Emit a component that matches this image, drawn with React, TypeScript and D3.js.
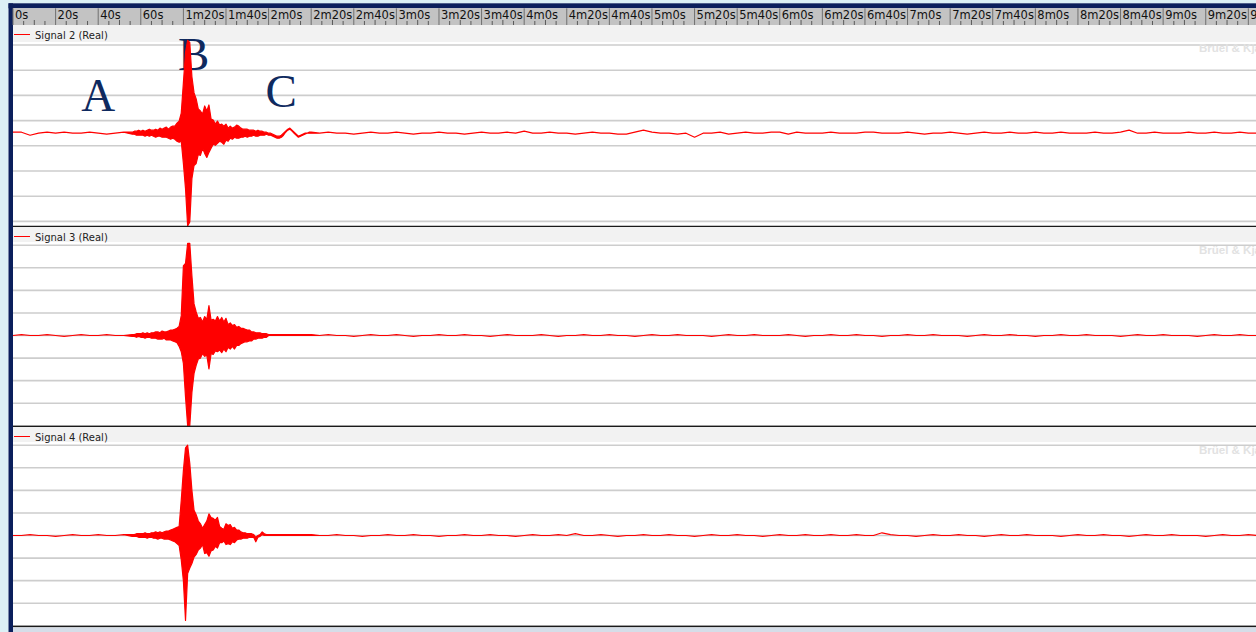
import React from 'react';
import * as d3 from 'd3';

const WIDTH = 1256;
const HEIGHT = 632;

// ---------- Ruler (time axis) ----------
const tickSeconds = [0, 20, 40, 60, 80, 100, 120, 140, 160, 180, 200, 220, 240, 260, 280, 300, 320, 340, 360, 380, 400, 420, 440, 460, 480, 500, 520, 540, 560, 580];
const tickLabels = ["0s", "20s", "40s", "60s", "1m20s", "1m40s", "2m0s", "2m20s", "2m40s", "3m0s", "3m20s", "3m40s", "4m0s", "4m20s", "4m40s", "5m0s", "5m20s", "5m40s", "6m0s", "6m20s", "6m40s", "7m0s", "7m20s", "7m40s", "8m0s", "8m20s", "8m40s", "9m0s", "9m20s", "9m40s"];
const T_MAX = 583.6;

// ---------- Signals ----------
// Quiet trace sampled every 4 s: pre-event from 0 s, post-event from 144 s
const QUIET_STEP = 4;
const PRE_START = 0;
const POST_START = 144;
// Event envelope (max / min per second) from 56 s to 140 s
const BURST_START = 56;
const BURST_STEP = 1;

const sig2Pre = [1, 1, -2, 0, 1, 0, 1, 0, 0, 1, 0, -1, 0, 1];
const sig2Post = [
  0, 1, 0, 0, -1, 0, 1, 0, 0, 1,
  0, -1, 0, 0, 1, 0, 0, -1, 0, 1,
  0, 0, 1, 0, 2, 0, 0, 1, 0, 0,
  -1, 0, 1, 0, 0, -1, -1, 1, 3, 1,
  0, 0, -1, 0, -4, 0, 0, 1, -1, 0,
  1, 0, 0, 1, 1, -1, 1, 0, 0, 0,
  1, 0, 0, 0, 1, 1, 0, 0, 0, 1,
  0, -1, 0, 0, 1, 0, -1, 0, 1, 0,
  0, 1, 0, 0, 1, 0, 0, 1, 0, 0,
  0, 1, 0, 0, 1, 3, 0, 0, 1, 0,
  0, 0, 1, 0, 0, 1, 0, 0, 1, 0,
  0,
];
const sig2Hi = [
  1, 2, 2, 3, 2, 3, 2, 3, 4, 3,
  3, 4, 3, 5, 4, 5, 6, 4, 6, 7,
  7, 10, 12, 20, 50, 80, 92, 90, 56, 40,
  34, 24, 22, 19, 27, 22, 28, 14, 13, 9,
  12, 8, 9, 7, 9, 5, 7, 5, 6, 8,
  7, 5, 4, 4, 4, 3, 3, 3, 2, 3,
  2, 2, 1, 1, 0, 0, -1, -2, -3, -3,
  -2, 0, 2, 4, 5, 3, 1, -1, -3, -2,
  -1, 0, 0, 1, 1,
];
const sig2Lo = [
  -1, -1, -2, -2, -2, -2, -3, -2, -3, -2,
  -3, -4, -3, -3, -4, -4, -4, -5, -6, -5,
  -6, -8, -9, -8, -30, -55, -92, -88, -45, -32,
  -30, -21, -22, -15, -20, -24, -19, -15, -11, -12,
  -10, -8, -9, -11, -7, -8, -5, -6, -4, -5,
  -5, -4, -4, -3, -4, -3, -3, -2, -3, -3,
  -2, -2, -2, -1, -2, -2, -3, -4, -5, -5,
  -4, -2, 1, 3, 4, 2, 0, -2, -4, -3,
  -2, -1, 0, 0, 0,
];

const sig3Pre = [0, 1, 0, 0, 1, 0, -1, 0, 1, 0, 0, 1, 0, 0];
const sig3Post = [
  0, 1, 0, 0, -1, 0, 1, 0, 0, 1,
  0, -1, 0, 0, 1, 0, 0, 1, 0, 0,
  -1, 0, 1, 0, 0, 0, 1, 0, -1, 0,
  0, 1, 0, 0, 1, 0, 0, -1, 0, 1,
  0, 0, 1, 0, 0, 0, -1, 0, 1, 0,
  0, 1, 0, 0, 0, 1, 0, -1, 0, 0,
  1, 0, 0, 1, 0, 0, -1, 0, 0, 1,
  0, 0, 1, 0, 0, 0, -1, 0, 1, 0,
  0, 1, 0, 0, -1, 0, 0, 1, 0, 0,
  1, 0, 0, 0, -1, 0, 1, 0, 0, 1,
  0, 0, 0, -1, 0, 1, 0, 0, 1, 0,
  0,
];
const sig3Hi = [
  1, 1, 2, 2, 2, 3, 2, 3, 2, 3,
  3, 4, 4, 3, 5, 4, 4, 5, 6, 6,
  7, 8, 10, 22, 77, 80, 102, 102, 66, 35,
  26, 19, 20, 15, 21, 18, 33, 17, 18, 16,
  21, 16, 20, 15, 19, 12, 14, 11, 12, 9,
  10, 8, 8, 7, 6, 6, 4, 4, 3, 3,
  3, 2, 2, 2, 1, 1, 1, 1, 1, 1,
  1, 1, 1, 1, 1, 1, 1, 1, 1, 1,
  1, 1, 1, 1, 1,
];
const sig3Lo = [
  -1, -1, -2, -1, -2, -2, -3, -2, -2, -3,
  -3, -3, -4, -4, -4, -3, -5, -5, -5, -6,
  -7, -8, -12, -18, -31, -68, -100, -100, -63, -42,
  -33, -26, -25, -20, -23, -22, -37, -20, -21, -17,
  -18, -16, -19, -15, -18, -13, -15, -12, -15, -11,
  -11, -9, -8, -7, -7, -6, -6, -4, -4, -3,
  -3, -3, -2, -2, 0, 0, 0, 0, 0, 0,
  0, 0, 0, 0, 0, 0, 0, 0, 0, 0,
  0, 0, 0, 0, 0,
];

const sig4Pre = [0, 0, 1, 0, 0, -1, 0, 1, 0, 0, 1, 0, 0, 1];
const sig4Post = [
  0, 0, 1, 0, 0, -1, 0, 0, 1, 0,
  0, 1, 0, 0, -1, 0, 0, 1, 0, 0,
  1, 0, 0, -1, 0, 1, 0, 0, 1, 0,
  2, 0, 0, 1, 0, -1, 0, 0, 1, 0,
  0, 1, 0, 0, -1, 0, 1, 0, 0, 1,
  0, 0, -1, 0, 1, 0, 0, 1, 0, 0,
  1, 0, 0, 1, 0, 0, 3, 1, 0, 0,
  -1, 0, 1, 0, 0, 1, 0, 0, -1, 0,
  1, 0, 0, 1, 0, 0, 0, -1, 0, 1,
  0, 0, 1, 0, 0, -1, 0, 1, 0, 0,
  1, 0, 0, 0, -1, 0, 1, 0, 0, 1,
  0,
];
const sig4Hi = [
  1, 1, 2, 2, 2, 2, 3, 2, 2, 3,
  3, 4, 3, 4, 3, 4, 5, 5, 6, 7,
  8, 9, 10, 39, 72, 97, 100, 80, 50, 28,
  23, 16, 13, 8, 12, 16, 24, 20, 19, 17,
  20, 10, 8, 7, 13, 11, 12, 8, 9, 6,
  6, 4, 3, 3, 2, 2, 2, 1, -2, 0,
  1, 4, 2, 1, 1, 1, 1, 1, 1, 1,
  1, 1, 1, 1, 1, 1, 1, 1, 1, 1,
  1, 1, 1, 1, 1,
];
const sig4Lo = [
  -1, -1, -1, -2, -2, -2, -2, -3, -2, -2,
  -3, -3, -4, -3, -3, -4, -4, -4, -5, -6,
  -7, -9, -11, -27, -50, -94, -42, -36, -31, -24,
  -21, -16, -14, -10, -20, -19, -23, -17, -16, -12,
  -14, -8, -8, -6, -10, -9, -10, -7, -8, -5,
  -4, -4, -3, -3, -3, -2, -2, -2, -7, -2,
  -1, 1, 0, 0, 0, 0, 0, 0, 0, 0,
  0, 0, 0, 0, 0, 0, 0, 0, 0, 0,
  0, 0, 0, 0, 0,
];

const signalNames = ["Signal 2 (Real)", "Signal 3 (Real)", "Signal 4 (Real)"];
const gridP1 = [-87.5, -62.5, -37.5, -12.5, 12.5, 37.5, 62.5, 87.5];
const gridP23 = [-100, -75, -50, -25, 0, 25, 50, 75, 100];

const annotations = [
  { text: "A", t: 32, v: 22 },
  { text: "B", t: 77.5, v: 63 },
  { text: "C", t: 118.5, v: 26 },
];

type Pt = { t: number; hi: number; lo: number };

function buildSeries(pre: number[], post: number[], hi: number[], lo: number[]): Pt[] {
  const pts: Pt[] = [];
  pre.forEach((v, i) => pts.push({ t: PRE_START + i * QUIET_STEP, hi: v, lo: v }));
  hi.forEach((h, i) => pts.push({ t: BURST_START + i * BURST_STEP, hi: h, lo: lo[i] }));
  post.forEach((v, i) => pts.push({ t: POST_START + i * QUIET_STEP, hi: v, lo: v }));
  return pts;
}

const PLOT_LEFT = 13;

const panelLayout = [
  { top: 25, headerBottom: 42, bottom: 226, domain: [-87.5, 87.5], range: [221.4, 45], grid: gridP1 },
  { top: 227, headerBottom: 242, bottom: 426, domain: [-100, 100], range: [425.8, 245.2], grid: gridP23 },
  { top: 427, headerBottom: 442, bottom: 626, domain: [-100, 100], range: [625.8, 445.2], grid: gridP23 },
];

const seriesData = [
  buildSeries(sig2Pre, sig2Post, sig2Hi, sig2Lo),
  buildSeries(sig3Pre, sig3Post, sig3Hi, sig3Lo),
  buildSeries(sig4Pre, sig4Post, sig4Hi, sig4Lo),
];

export default function App() {
  const x = d3.scaleLinear().domain([0, T_MAX]).range([PLOT_LEFT, WIDTH]);
  const minorTicks = d3.range(0, T_MAX, 5).filter((t) => t % 20 !== 0);

  return (
    <svg
      width={WIDTH}
      height={HEIGHT}
      style={{ position: 'absolute', left: 0, top: 0, display: 'block', background: '#ffffff' }}
    >
      <defs>
        {panelLayout.map((p, i) => (
          <clipPath id={`clip${i}`} key={i}>
            <rect x={PLOT_LEFT} y={p.top} width={WIDTH - PLOT_LEFT} height={p.bottom - p.top} />
          </clipPath>
        ))}
      </defs>

      {/* window frame */}
      <rect x={0} y={0} width={WIDTH} height={HEIGHT} fill="#ffffff" />
      <rect x={0} y={0} width={WIDTH} height={3.3} fill="#dcf0f5" />
      <rect x={0} y={0} width={8.5} height={HEIGHT} fill="#dcf0f5" />
      <rect x={8.5} y={3.3} width={WIDTH} height={5} fill="#0b1f5c" />
      <rect x={8.5} y={3.3} width={4.5} height={HEIGHT} fill="#0b1f5c" />

      {/* ruler */}
      <rect x={PLOT_LEFT} y={8.3} width={WIDTH - PLOT_LEFT} height={16.7} fill="#c3c3c3" />
      {minorTicks.map((t) => (
        <line key={`m${t}`} x1={x(t)} x2={x(t)} y1={t % 10 === 0 ? 20 : 21} y2={25} stroke="#5a5a5a" strokeWidth={1} />
      ))}
      {tickSeconds.map((t, i) => (
        <g key={`t${t}`}>
          <line x1={x(t)} x2={x(t)} y1={8.3} y2={25} stroke="#707070" strokeWidth={1} />
          <text x={x(t) + 2} y={19} fontFamily="DejaVu Sans" fontSize={11.5} fill="#111">
            {tickLabels[i]}
          </text>
        </g>
      ))}

      {/* panels */}
      {panelLayout.map((p, i) => {
        const y = d3.scaleLinear().domain(p.domain).range(p.range);
        const area = d3
          .area<Pt>()
          .x((d) => x(d.t))
          .y0((d) => y(d.lo))
          .y1((d) => y(d.hi));
        return (
          <g key={`p${i}`}>
            <rect x={PLOT_LEFT} y={p.top} width={WIDTH - PLOT_LEFT} height={p.headerBottom - p.top} fill="#f2f2f2" />
            {p.grid.map((g) => (
              <line key={g} x1={PLOT_LEFT} x2={WIDTH} y1={y(g)} y2={y(g)} stroke="#cdcdcd" strokeWidth={1.6} />
            ))}
            <text
              x={1199}
              y={p.top + 27}
              fontFamily="Liberation Sans"
              fontWeight="bold"
              fontSize={11.5}
              fill="#e2e2e2"
            >
              Brüel &amp; Kjær
            </text>
            {i === 0 &&
              annotations.map((a) => (
                <text
                  key={a.text}
                  x={x(a.t)}
                  y={y(a.v)}
                  fontFamily="Liberation Serif"
                  fontSize={47}
                  fill="#0f2a5f"
                >
                  {a.text}
                </text>
              ))}
            <path
              d={area(seriesData[i]) || ''}
              fill="#ff0000"
              stroke="#ff0000"
              strokeWidth={1.2}
              strokeLinejoin="round"
              clipPath={`url(#clip${i})`}
            />
            <line x1={14} x2={30} y1={p.top + 9.5} y2={p.top + 9.5} stroke="#ff0000" strokeWidth={1} />
            <text x={35} y={p.top + 13.5} fontFamily="DejaVu Sans" fontSize={10} fill="#222">
              {signalNames[i]}
            </text>
            <line x1={PLOT_LEFT} x2={WIDTH} y1={p.bottom + 0.5} y2={p.bottom + 0.5} stroke="#1a1a1a" strokeWidth={1.5} />
          </g>
        );
      })}
      <rect x={PLOT_LEFT} y={627.5} width={WIDTH - PLOT_LEFT} height={HEIGHT - 627.5} fill="#d5dde8" />
    </svg>
  );
}
